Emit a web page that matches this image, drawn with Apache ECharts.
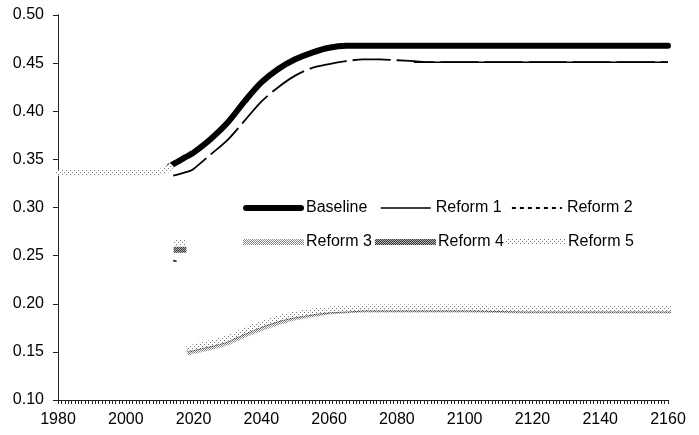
<!DOCTYPE html>
<html>
<head>
<meta charset="utf-8">
<script src="https://cdn.jsdelivr.net/npm/echarts@6/dist/echarts.min.js"></script>
<style>
  html, body { margin: 0; padding: 0; background: #fff; }
  #chart { width: 699px; height: 435px; }
</style>
</head>
<body>
<div id="chart"></div>
<script>
var N = null;
// years shared by every series (null = no value)
var years = [1980, 1990, 2000, 2008, 2010, 2012, 2013, 2014, 2015, 2016, 2017, 2018, 2019, 2020,
             2025, 2030, 2035, 2040, 2045, 2050, 2055, 2060, 2065, 2070, 2075, 2080, 2085, 2090,
             2100, 2120, 2140, 2160];
var baseline = [N, N, N, N, N, N, 0.343, 0.345, 0.347, 0.349, 0.351, 0.353, 0.355, 0.357,
                0.371, 0.388, 0.410, 0.430, 0.444, 0.454, 0.461, 0.466, 0.468, 0.468, 0.468, 0.468, 0.468, 0.468,
                0.468, 0.468, 0.468, 0.468];
var reform1 = [N, N, N, N, N, N, N, 0.245, 0.244, N, N, N, N, N,
               N, N, N, N, N, N, N, N, N, N, N, N, 0.451, 0.451,
               0.451, 0.451, 0.451, 0.451];
var reform2 = [N, N, N, N, N, N, N, 0.333, 0.334, 0.335, 0.336, 0.337, 0.338, 0.340,
               0.355, 0.370, 0.390, 0.410, 0.425, 0.437, 0.445, 0.449, 0.452, 0.454, 0.454, 0.453, 0.452, 0.451,
               0.451, 0.451, 0.451, 0.451];
var reform3 = [N, N, N, N, N, N, N, N, N, N, N, N, 0.150, 0.151,
               0.155, 0.160, 0.168, 0.175, 0.181, 0.186, 0.189, 0.192, 0.193, 0.194, 0.194, 0.194, 0.194, 0.194,
               0.194, 0.193, 0.193, 0.193];
var reform4 = [N, N, N, N, N, N, N, N, 0.256, 0.256, 0.256, N, 0.153, 0.154,
               0.158, 0.163, 0.171, 0.178, 0.184, 0.188, 0.191, 0.193, 0.194, 0.195, 0.195, 0.195, 0.195, 0.195,
               0.195, 0.194, 0.194, 0.194];
var reform5 = [0.336, 0.336, 0.336, 0.336, 0.337, 0.339, 0.342, N, 0.263, 0.263, 0.263, N, 0.154, 0.155,
               0.159, 0.164, 0.172, 0.179, 0.185, 0.189, 0.192, 0.194, 0.195, 0.196, 0.196, 0.196, 0.196, 0.196,
               0.196, 0.195, 0.195, 0.195];

function pairs(vals) {
    return years.map(function(y, i) { return [y, vals[i] == null ? '-' : vals[i]]; });
}

// small halftone patterns like the excel fills
function pattern(bg, fg, dots) {
    var c = document.createElement('canvas');
    c.width = 4; c.height = 4;
    var ctx = c.getContext('2d');
    ctx.fillStyle = bg;
    ctx.fillRect(0, 0, 4, 4);
    ctx.fillStyle = fg;
    dots.forEach(function(d) { ctx.fillRect(d[0], d[1], 1, 1); });
    return { image: c, repeat: 'repeat' };
}
var checker = [[0, 0], [2, 0], [1, 1], [3, 1], [0, 2], [2, 2], [1, 3], [3, 3]];
var pat3 = pattern('#ffffff', '#8a8a8a', checker);
var pat4 = pattern('#b0b0b0', '#3a3a3a', checker);
var pat5 = pattern('#ffffff', '#777777', [[0, 0], [2, 2]]);

var font = 'Liberation Sans, Arial, sans-serif';

function leg(name, left, top, w, extra) {
    var l = {
        data: [name],
        left: left,
        top: top,
        itemWidth: w,
        itemHeight: 14,
        selectedMode: false,
        textStyle: { fontFamily: font, fontSize: 16, color: '#000' },
        itemStyle: { opacity: 0 },
        lineStyle: { width: 'inherit' }
    };
    if (extra) l.lineStyle = Object.assign(l.lineStyle, extra);
    return l;
}

var gridBox = { left: 58, right: 31, top: 15, bottom: 35 };

var option = {
    animation: false,
    backgroundColor: '#fff',
    // grid 0 holds the data and labels, grid 1 (same box) only draws the ticks
    grid: [Object.assign({}, gridBox), Object.assign({}, gridBox)],
    legend: [
        leg('Baseline', 238, 195, 55),
        leg('Reform 1', 375, 195, 50),
        leg('Reform 2', 506, 195, 50, { type: [4, 4] }),
        leg('Reform 3', 238, 229, 55),
        leg('Reform 4', 370, 229, 55),
        leg('Reform 5', 500, 229, 55)
    ],
    xAxis: [{
        gridIndex: 0,
        type: 'value',
        min: 1980,
        max: 2160,
        interval: 20,
        axisLine: { show: true, lineStyle: { color: '#222', width: 1 } },
        axisTick: { show: false },
        splitLine: { show: false },
        axisLabel: {
            fontFamily: font, fontSize: 16, color: '#000', margin: 12,
            formatter: function(v) { return String(v); }
        }
    }, {
        gridIndex: 1,
        type: 'value',
        min: 1980,
        max: 2160,
        interval: 20,
        axisLine: { show: true, lineStyle: { color: '#222', width: 1 } },
        axisTick: { show: true, length: 4, lineStyle: { color: '#222' } },
        minorTick: { show: true, splitNumber: 20, length: 4, lineStyle: { color: '#222' } },
        splitLine: { show: false },
        axisLabel: { show: false }
    }],
    yAxis: [{
        gridIndex: 0,
        type: 'value',
        min: 0.1,
        max: 0.5,
        interval: 0.05,
        axisLine: { show: true, lineStyle: { color: '#222', width: 1 } },
        axisTick: { show: false },
        splitLine: { show: false },
        axisLabel: {
            fontFamily: font, fontSize: 16, color: '#000', margin: 14,
            formatter: function(v) { return v.toFixed(2); }
        }
    }, {
        gridIndex: 1,
        type: 'value',
        min: 0.1,
        max: 0.5,
        interval: 0.05,
        axisLine: { show: true, lineStyle: { color: '#222', width: 1 } },
        axisTick: { show: true, length: 5, lineStyle: { color: '#222' } },
        splitLine: { show: false },
        axisLabel: { show: false }
    }],
    series: [{
        name: 'Baseline',
        type: 'line',
        data: pairs(baseline),
        symbol: 'none',
        smooth: 0.3,
        color: '#000',
        lineStyle: { color: '#000', width: 6, cap: 'round' }
    }, {
        name: 'Reform 1',
        type: 'line',
        data: pairs(reform1),
        symbol: 'none',
        color: '#000',
        lineStyle: { color: '#000', width: 1.5 }
    }, {
        name: 'Reform 2',
        type: 'line',
        data: pairs(reform2),
        symbol: 'none',
        smooth: 0.3,
        color: '#000',
        lineStyle: { color: '#000', width: 1.8, type: [38, 6] }
    }, {
        name: 'Reform 3',
        type: 'line',
        data: pairs(reform3),
        symbol: 'none',
        smooth: 0.3,
        color: '#999',
        lineStyle: { color: pat3, width: 6, cap: 'square' }
    }, {
        name: 'Reform 4',
        type: 'line',
        data: pairs(reform4),
        symbol: 'none',
        smooth: 0.3,
        color: '#666',
        lineStyle: { color: pat4, width: 6, cap: 'square' }
    }, {
        name: 'Reform 5',
        type: 'line',
        data: pairs(reform5),
        symbol: 'none',
        smooth: 0.3,
        color: '#ccc',
        lineStyle: { color: pat5, width: 6, cap: 'square' }
    }]
};

var myChart = echarts.init(document.getElementById('chart'));
myChart.setOption(option);
</script>
</body>
</html>
